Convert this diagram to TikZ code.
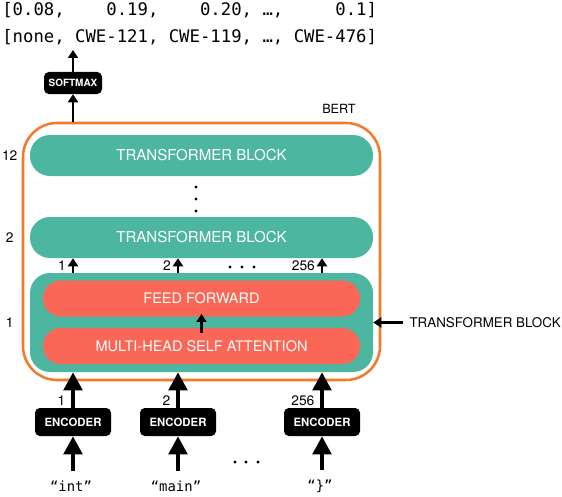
\documentclass[tikz,border=0pt]{standalone}
\usepackage{fontspec}
\setsansfont{TeX Gyre Heros}
\setmonofont{DejaVu Sans Mono}
\usepackage{tikz}
\usetikzlibrary{arrows.meta,positioning}

\definecolor{bertorange}{HTML}{F07B2A}
\definecolor{blockteal}{HTML}{4DB6A1}
\definecolor{layerred}{HTML}{FB6756}

\begin{document}
\begin{tikzpicture}[>=Stealth,
  bertbox/.style={draw=bertorange,line width=1.8pt,rounded corners=0.85cm,minimum width=8.925cm,minimum height=6.425cm},
  tblock/.style={fill=blockteal,text=white,rounded corners=0.5cm,minimum width=8.575cm,minimum height=1.025cm,font=\sffamily\fontsize{10.7}{12}\selectfont},
  layer/.style={fill=layerred,text=white,rounded corners=0.44cm,minimum width=7.925cm,minimum height=0.9cm,font=\sffamily\fontsize{10.3}{12}\selectfont},
  blackbox/.style={fill=black,text=white,rounded corners=0.12cm,inner sep=0pt,font=\sffamily\bfseries\fontsize{8.1}{10}\selectfont},
  numlbl/.style={inner sep=0pt,font=\sffamily\fontsize{9.8}{11}\selectfont},
  token/.style={font=\ttfamily\fontsize{9.9}{12}\selectfont},
  bigarrow/.style={line width=2.8pt,-{Triangle[length=0.45cm,width=0.46cm]}},
  smallarrow/.style={line width=2.1pt,-{Triangle[length=0.2cm,width=0.25cm]}},
]
  \useasboundingbox (0,0) rectangle (14.05,12.4);
  % output vectors
  \node[anchor=west,inner sep=0pt,font=\ttfamily\fontsize{12.3}{14}\selectfont] (probs) at (0.05,12.15) {[0.08,~~~~0.19,~~~~0.20,~…,~~~~~0.1]};
  \node[anchor=west,inner sep=0pt,font=\ttfamily\fontsize{12.3}{14}\selectfont] (classes) at (0.05,11.475) {[none,~CWE-121,~CWE-119,~…,~CWE-476]};
  \coordinate (outtop) at (1.825,11.15);
  \node[blackbox,font=\sffamily\bfseries\fontsize{7.1}{9}\selectfont,minimum width=1.45cm,minimum height=0.55cm] (softmax) at (1.825,10.325) {SOFTMAX};
  % BERT frame
  \node[bertbox] (bert) at (5.0375,6.1125) {};
  \node[numlbl,font=\sffamily\fontsize{9}{11}\selectfont] (bertlbl) at (8.475,9.675) {BERT};
  % transformer blocks
  \node[tblock] (tb12) at (5.0375,8.5125) {TRANSFORMER BLOCK};
  \node[tblock] (tb2) at (5.0375,6.4625) {TRANSFORMER BLOCK};
  \node[tblock,minimum height=2.475cm] (tb1) at (5.0375,4.3375) {};
  \node[layer] (ff) at (5.0375,4.9375) {FEED FORWARD};
  \node[layer] (mhsa) at (5.0375,3.75) {MULTI-HEAD SELF ATTENTION};
  \node[numlbl] (l12) at ([xshift=-0.5cm]tb12.west) {12};
  \node[numlbl] (l2) at ([xshift=-0.5cm]tb2.west) {2};
  \node[numlbl] (l1) at ([xshift=-0.5cm]tb1.west) {1};
  \foreach \y in {7.125,7.425,7.725} \fill (4.9,\y) circle (0.04);
  \draw[smallarrow] ([yshift=-0.12cm]mhsa.north) -- ([yshift=0.07cm]ff.south);
  \node[numlbl,font=\sffamily\fontsize{9.5}{11}\selectfont,right=0.9cm of tb1.east] (tblbl) {TRANSFORMER BLOCK};
  \draw[smallarrow] ([xshift=-0.15cm]tblbl.west) -- (tb1.east);
  % encoders and tokens
  \node[blackbox,minimum width=1.9cm,minimum height=0.7cm] (encint) at (1.825,1.85) {ENCODER};
  \node[blackbox,minimum width=1.9cm,minimum height=0.7cm] (encmain) at (4.45,1.85) {ENCODER};
  \node[blackbox,minimum width=1.9cm,minimum height=0.7cm] (encbrace) at (8.05,1.85) {ENCODER};
  \node[token] (wint) at (1.775,0.25) {“int”};
  \node[token] (wmain) at (4.4,0.25) {“main”};
  \node[token] (wbrace) at (8.0,0.25) {“\}”};
  \foreach \x in {5.875,6.15,6.45} \fill (\x,0.85) circle (0.04);
  \foreach \x in {5.75,6.05,6.35} \fill (\x,5.725) circle (0.04);
  % arrows
  \foreach \w/\e in {wint/encint,wmain/encmain,wbrace/encbrace}
    \draw[bigarrow] ([yshift=0.12cm]\e.south |- \w.north) -- (\e.south);
  \foreach \e/\n in {encint/1,encmain/2,encbrace/256}
    \draw[bigarrow] (\e.north) -- (\e |- tb1.south) node[numlbl,pos=0.2,left=4pt] {\n};
  \foreach \e/\n in {encint/1,encmain/2,encbrace/256}
    \draw[smallarrow] (\e |- tb1.north) -- (\e |- tb2.south) node[numlbl,midway,left=4pt] {\n};
  \draw[smallarrow] (softmax |- bert.north) -- (softmax.south);
  \draw[smallarrow] (softmax.north) -- (outtop);
\end{tikzpicture}
\end{document}
